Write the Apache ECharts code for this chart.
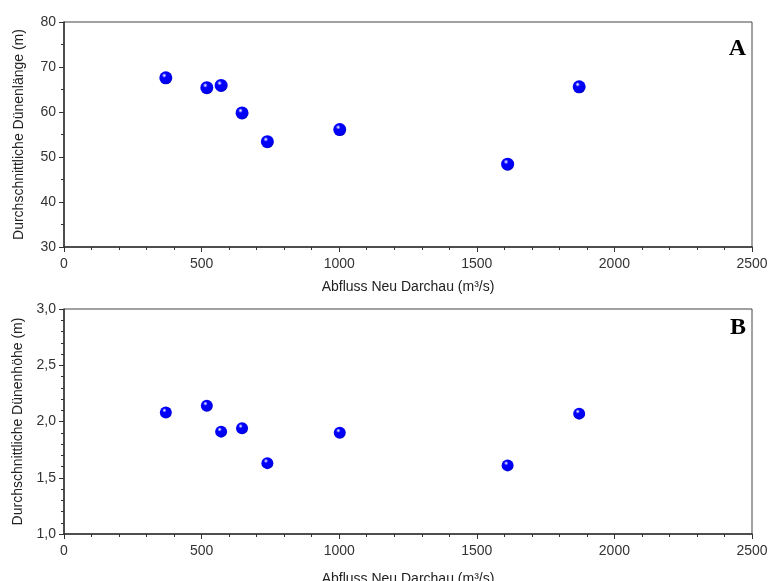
<!DOCTYPE html>
<html>
<head>
<meta charset="utf-8">
<script src="https://cdn.jsdelivr.net/npm/echarts@6/dist/echarts.min.js"></script>
<style>html,body{margin:0;padding:0;background:#fff}#c{width:768px;height:581px}</style>
</head>
<body>
<div id="c"></div>
<script>
const discharge = [370, 519, 571, 647, 739, 1002, 1612, 1872];
const duneLength = [67.6, 65.4, 65.9, 59.8, 53.4, 56.1, 48.4, 65.6];
const duneHeight = [2.08, 2.14, 1.91, 1.94, 1.63, 1.90, 1.61, 2.07];
const xTicks = [0, 500, 1000, 1500, 2000, 2500];
const yTicksA = [30, 40, 50, 60, 70, 80];
const yTicksB = [1.0, 1.5, 2.0, 2.5, 3.0];
const xName = 'Abfluss Neu Darchau (m³/s)';
const yNameA = 'Durchschnittliche Dünenlänge (m)';
const yNameB = 'Durchschnittliche Dünenhöhe (m)';
const panelLabels = ['A', 'B'];

const chart = echarts.init(document.getElementById('c'), null, {renderer: 'canvas'});
const font = 'Liberation Sans, Arial, sans-serif';
const ball = {
  type: 'radial', x: 0.38, y: 0.32, r: 0.7,
  colorStops: [
    {offset: 0, color: '#ffffff'},
    {offset: 0.1, color: '#a0a0ff'},
    {offset: 0.26, color: '#0000ff'},
    {offset: 0.85, color: '#0000ee'},
    {offset: 1, color: '#0000b8'}
  ]
};
function xAxis(gi, gap) {
  return {
    type: 'value', gridIndex: gi, min: xTicks[0], max: xTicks[xTicks.length - 1], interval: 500,
    name: xName, nameLocation: 'middle', nameGap: gap,
    nameTextStyle: {fontFamily: font, fontSize: 14, color: '#222'},
    axisLine: {show: true, lineStyle: {color: '#333', width: 1.5}},
    axisTick: {show: true, inside: false, length: 5, lineStyle: {color: '#333', width: 1}},
    minorTick: {show: true, splitNumber: 5, length: 3, lineStyle: {color: '#333', width: 1}},
    axisLabel: {fontFamily: font, fontSize: 14, color: '#333', margin: 10, formatter: v => String(v)},
    splitLine: {show: false}
  };
}
function yAxis(gi, ticks, interval, minorSplit, name, fmt) {
  return {
    type: 'value', gridIndex: gi, min: ticks[0], max: ticks[ticks.length - 1], interval: interval,
    name: name, nameLocation: 'middle', nameGap: 38,
    nameTextStyle: {fontFamily: font, fontSize: 14, color: '#222'},
    axisLine: {show: true, lineStyle: {color: '#333', width: 1.5}},
    axisTick: {show: true, inside: false, length: 5, lineStyle: {color: '#333', width: 1}},
    minorTick: {show: true, splitNumber: minorSplit, length: 3, lineStyle: {color: '#333', width: 1}},
    axisLabel: {fontFamily: font, fontSize: 14, color: '#333', margin: 8, formatter: fmt},
    splitLine: {show: false}
  };
}
chart.setOption({
  animation: false,
  backgroundColor: '#fff',
  grid: [
    {left: 64, right: 16, top: 22, height: 225, show: true, borderColor: '#444', borderWidth: 1, backgroundColor: 'transparent', containLabel: false, outerBoundsMode: 'none'},
    {left: 64, right: 16, top: 309, height: 225, show: true, borderColor: '#444', borderWidth: 1, backgroundColor: 'transparent', containLabel: false, outerBoundsMode: 'none'}
  ],
  xAxis: [xAxis(0, 33), xAxis(1, 38)],
  yAxis: [
    yAxis(0, yTicksA, 10, 2, yNameA, v => String(v)),
    yAxis(1, yTicksB, 0.5, 5, yNameB, v => v.toFixed(1).replace('.', ','))
  ],
  graphic: [
    {type: 'text', right: 22, top: 37, style: {text: panelLabels[0], font: 'bold 24px "Liberation Serif", "Times New Roman", serif', fill: '#000'}},
    {type: 'text', right: 22, top: 316, style: {text: panelLabels[1], font: 'bold 24px "Liberation Serif", "Times New Roman", serif', fill: '#000'}}
  ],
  series: [
    {type: 'scatter', xAxisIndex: 0, yAxisIndex: 0, symbolSize: 13,
     itemStyle: {color: ball, opacity: 1}, data: discharge.map((x, i) => [x, duneLength[i]])},
    {type: 'scatter', xAxisIndex: 1, yAxisIndex: 1, symbolSize: 12,
     itemStyle: {color: ball, opacity: 1}, data: discharge.map((x, i) => [x, duneHeight[i]])}
  ]
});
</script>
</body>
</html>
